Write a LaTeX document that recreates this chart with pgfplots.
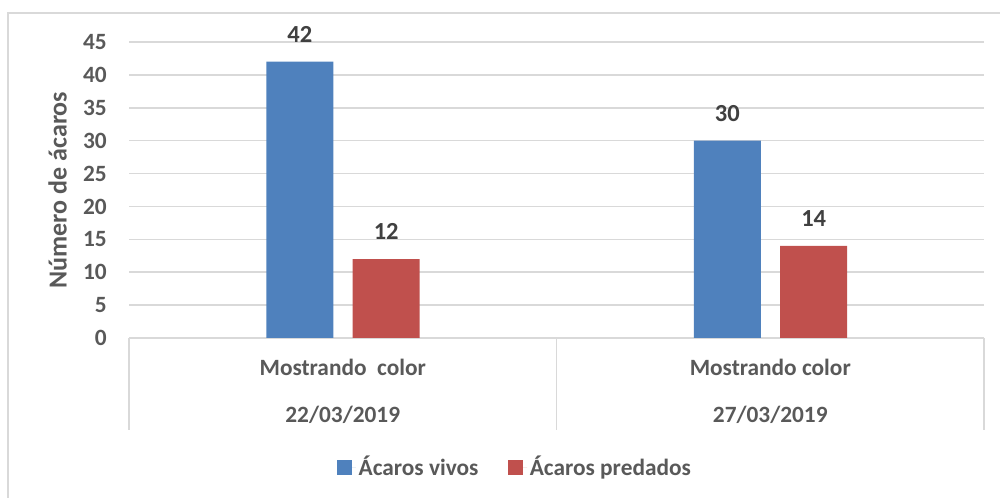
\documentclass[border=0pt]{standalone}
\usepackage{pgfplots}
\pgfplotsset{compat=1.18}
\usepackage{fontspec}
\setmainfont{Carlito}
\definecolor{vivo}{HTML}{4F81BD}
\definecolor{pred}{HTML}{C0504D}
\definecolor{txt}{HTML}{595959}
\definecolor{lbl}{HTML}{404040}
\definecolor{rule}{HTML}{D9D9D9}

\begin{document}
\begin{tikzpicture}
\useasboundingbox (0,0) rectangle (750pt,373.5pt);
% chart frame (left and top edges)
\draw[rule, line width=1.1pt] (6pt,-2pt) |- (752pt,363.75pt);
\begin{axis}[
  at={(96.75pt,120pt)}, anchor=south west,
  width=641.25pt, height=222pt, scale only axis,
  /pgf/number format/assume math mode=true,
  ymin=0, ymax=45, ytick={0,5,...,45},
  xmin=-0.5, xmax=1.5, xtick={0,1},
  xticklabels={{Mostrando\ \ color\\22/03/2019},{Mostrando color\\27/03/2019}},
  axis line style={draw=none},
  major tick length=0pt,
  ymajorgrids, grid style={rule, line width=1.1pt},
  tick label style={font=\bfseries\fontsize{17.5pt}{35.25pt}\selectfont, text=txt},
  yticklabel style={anchor=east, inner sep=0pt, xshift=-16.5pt},
  xticklabel style={anchor=north, inner sep=0pt, align=center, yshift=-16pt},
  ylabel={Número de ácaros},
  every axis y label/.style={at={([xshift=-53.6pt]axis description cs:0,0.5)},
    rotate=90, anchor=center, inner sep=0pt,
    font=\bfseries\fontsize{19.5pt}{23pt}\selectfont, text=txt},
  ybar, bar width=50.25pt,
  nodes near coords,
  every node near coord/.append style={anchor=south, inner sep=0pt, yshift=14.25pt,
    font=\bfseries\fontsize{18.4pt}{22pt}\selectfont, text=lbl},
  legend columns=2,
  legend style={draw=none, at={(0.452,-0.436)}, anchor=center,
    font=\bfseries\fontsize{17.5pt}{21pt}\selectfont, text=txt,
    /tikz/every even column/.append style={column sep=20.5pt}},
  legend image code/.code={%
    \fill[#1] (0pt,-5.6pt) rectangle (11.2pt,5.6pt);
    \path (0pt,0pt) -- (14pt,0pt);},
  clip=false,
]
\addplot[fill=vivo, draw=none, bar shift=-32.25pt] coordinates {(0,42) (1,30)};
\addplot[fill=pred, draw=none, bar shift=32.6pt] coordinates {(0,12) (1,14)};
\legend{Ácaros vivos, Ácaros predados}
% separators of the category axis
\pgfplotsinvokeforeach{-0.5,0.5,1.5}{
  \draw[rule, line width=1.1pt] (axis cs:#1,0) -- ++(0pt,-69pt);
}
\end{axis}
\end{tikzpicture}
\end{document}
